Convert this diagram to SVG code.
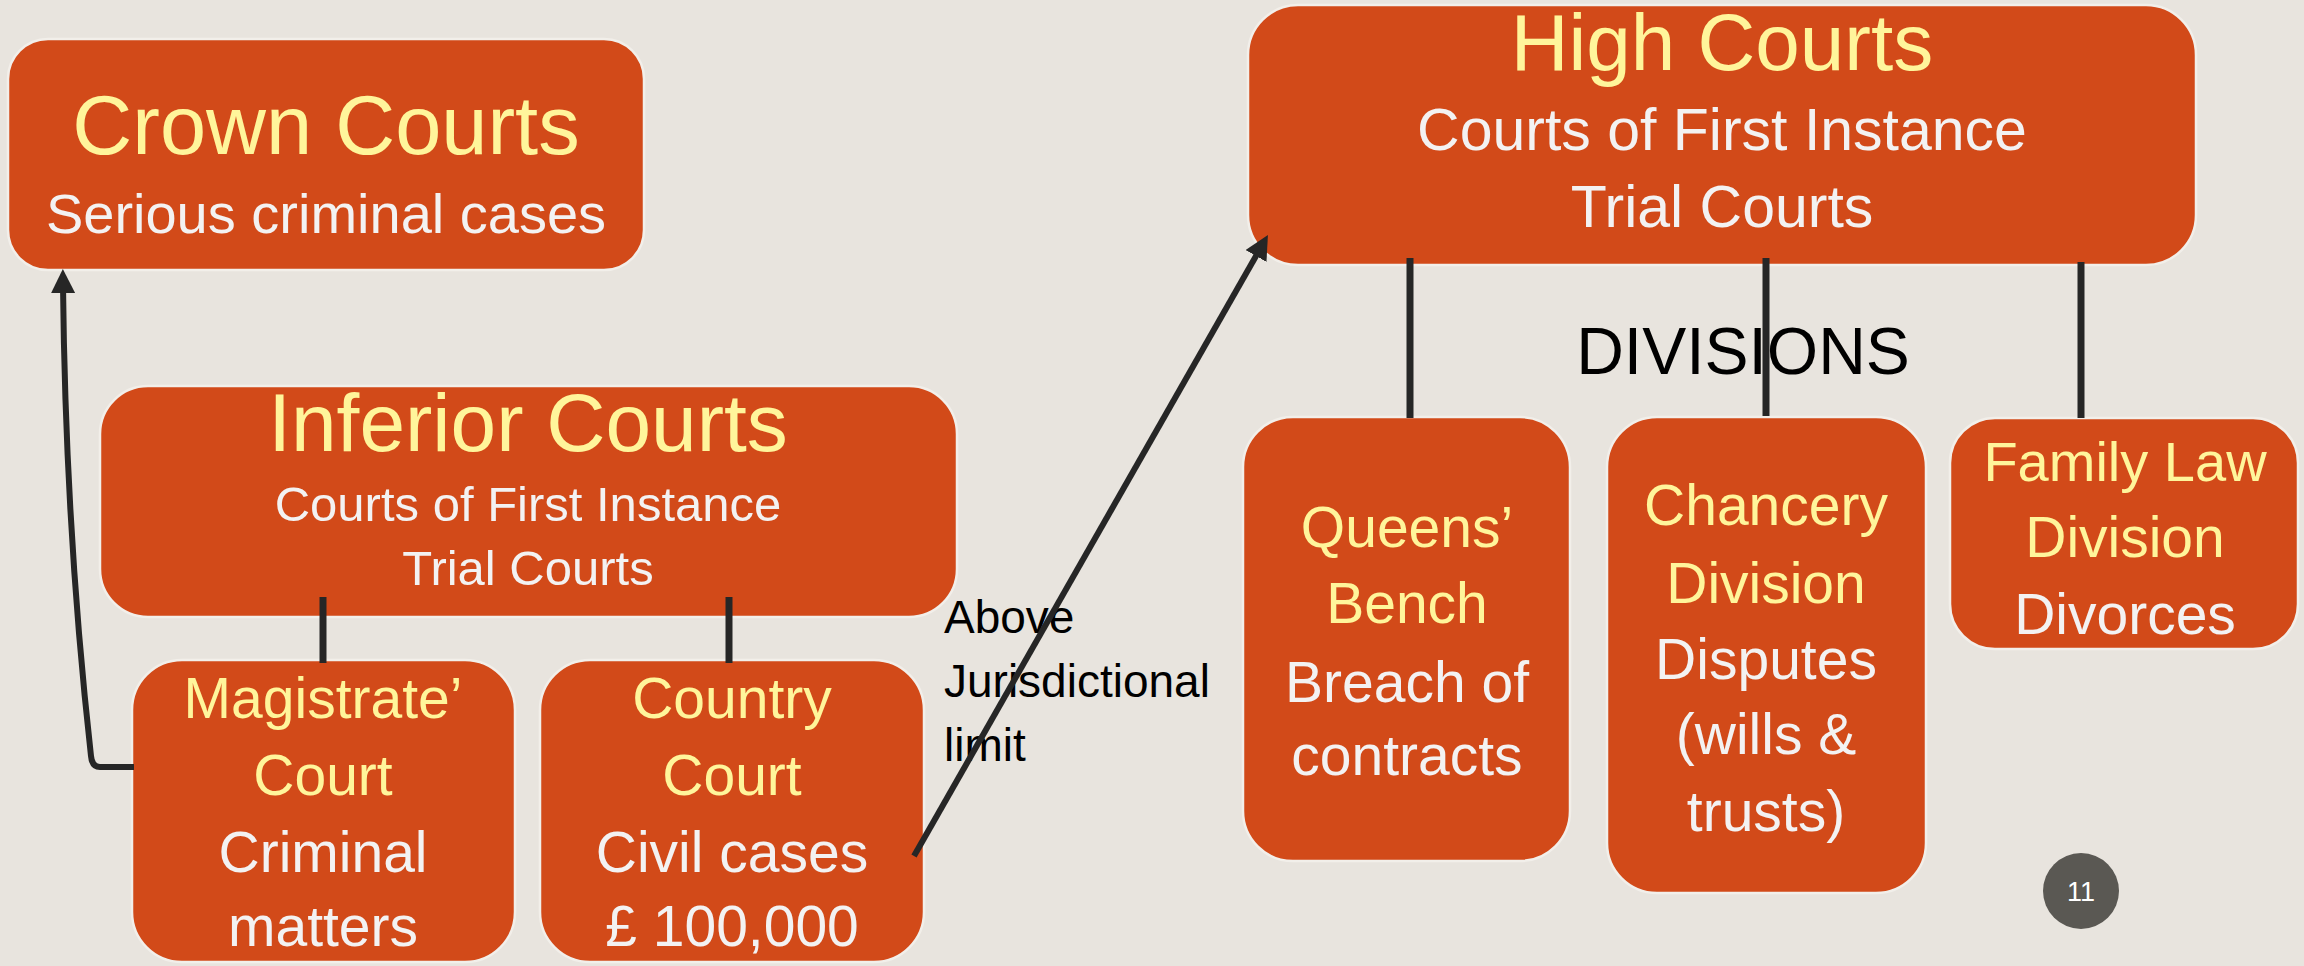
<svg xmlns="http://www.w3.org/2000/svg" width="2304" height="966" viewBox="0 0 2304 966">
<defs>
<style>
.box{fill:#D24A19;stroke:#F2EFEA;stroke-width:2.5}
text{font-family:"Liberation Sans",Arial,sans-serif;text-anchor:middle}
.y{fill:#FFF59B}
.w{fill:#F3F2F2}
.k{fill:#000000}
.ln{stroke:#262626;stroke-width:7;fill:none}
.ar{stroke:#262626;stroke-width:6;fill:none}
</style>
<marker id="ah" markerUnits="userSpaceOnUse" viewBox="0 0 24 24" markerWidth="24" markerHeight="24" refX="8" refY="12" orient="auto">
<path d="M0,0 L24,12 L0,24 z" fill="#262626"/>
</marker>
</defs>
<rect x="0" y="0" width="2304" height="966" fill="#E8E4DE"/>

<g id="crown">
<rect class="box" x="8" y="39" width="636" height="231" rx="40"/>
<text class="y" x="326" y="154" font-size="83">Crown Courts</text>
<text class="w" x="326" y="233" font-size="56">Serious criminal cases</text>
</g>

<g id="inferior">
<rect class="box" x="100" y="386" width="857" height="231" rx="48"/>
<text class="y" x="528" y="451" font-size="82">Inferior Courts</text>
<text class="w" x="528" y="521" font-size="49">Courts of First Instance</text>
<text class="w" x="528" y="585" font-size="49">Trial Courts</text>
</g>

<g id="magistrate">
<rect class="box" x="132" y="660" width="383" height="302" rx="50"/>
<text class="y" x="323" y="718" font-size="57">Magistrate’</text>
<text class="y" x="323" y="795" font-size="57">Court</text>
<text class="w" x="323" y="872" font-size="57">Criminal</text>
<text class="w" x="323" y="946" font-size="57">matters</text>
</g>

<g id="country">
<rect class="box" x="540" y="660" width="384" height="302" rx="50"/>
<text class="y" x="732" y="718" font-size="57">Country</text>
<text class="y" x="732" y="795" font-size="57">Court</text>
<text class="w" x="732" y="872" font-size="57">Civil cases</text>
<text class="w" x="732" y="946" font-size="57">£ 100,000</text>
</g>

<g id="high">
<rect class="box" x="1248" y="5" width="948" height="260" rx="50"/>
<text class="y" x="1722" y="70" font-size="80">High Courts</text>
<text class="w" x="1722" y="150" font-size="59">Courts of First Instance</text>
<text class="w" x="1722" y="227" font-size="59">Trial Courts</text>
</g>

<g id="queens">
<rect class="box" x="1243" y="417" width="327" height="444" rx="50"/>
<text class="y" x="1407" y="547" font-size="57">Queens’</text>
<text class="y" x="1407" y="623" font-size="57">Bench</text>
<text class="w" x="1407" y="702" font-size="57">Breach of</text>
<text class="w" x="1407" y="775" font-size="57">contracts</text>
</g>

<g id="chancery">
<rect class="box" x="1607" y="417" width="319" height="476" rx="50"/>
<text class="y" x="1766" y="525" font-size="57">Chancery</text>
<text class="y" x="1766" y="603" font-size="57">Division</text>
<text class="w" x="1766" y="679" font-size="57">Disputes</text>
<text class="w" x="1766" y="754" font-size="57">(wills &amp;</text>
<text class="w" x="1766" y="831" font-size="57">trusts)</text>
</g>

<g id="family">
<rect class="box" x="1950" y="418" width="348" height="231" rx="45"/>
<text class="y" x="2125" y="481" font-size="56">Family Law</text>
<text class="y" x="2125" y="557" font-size="57">Division</text>
<text class="w" x="2125" y="634" font-size="57">Divorces</text>
</g>

<g id="labels">
<text class="k" x="1743" y="374" font-size="66">DIVISIONS</text>
<text class="k" x="944" y="633" font-size="46" style="text-anchor:start">Above</text>
<text class="k" x="944" y="697" font-size="46" style="text-anchor:start">Jurisdictional</text>
<text class="k" x="944" y="761" font-size="46" style="text-anchor:start">limit</text>
</g>

<g id="connectors">
<line class="ln" x1="323" y1="597" x2="323" y2="663"/>
<line class="ln" x1="729" y1="597" x2="729" y2="663"/>
<line class="ln" x1="1410" y1="258" x2="1410" y2="418"/>
<line class="ln" x1="1766" y1="258" x2="1766" y2="416"/>
<line class="ln" x1="2081" y1="262" x2="2081" y2="418"/>
<path class="ar" d="M134 767 L100 767 Q92 767 91 756 C78 640 65 480 63 285" marker-end="url(#ah)"/>
<path class="ar" d="M914 856 L1260 249" marker-end="url(#ah)"/>
</g>

<g id="page">
<circle cx="2081" cy="891" r="38" fill="#5A5853"/>
<text x="2081" y="901" font-size="27" fill="#FFFFFF">11</text>
</g>
</svg>
